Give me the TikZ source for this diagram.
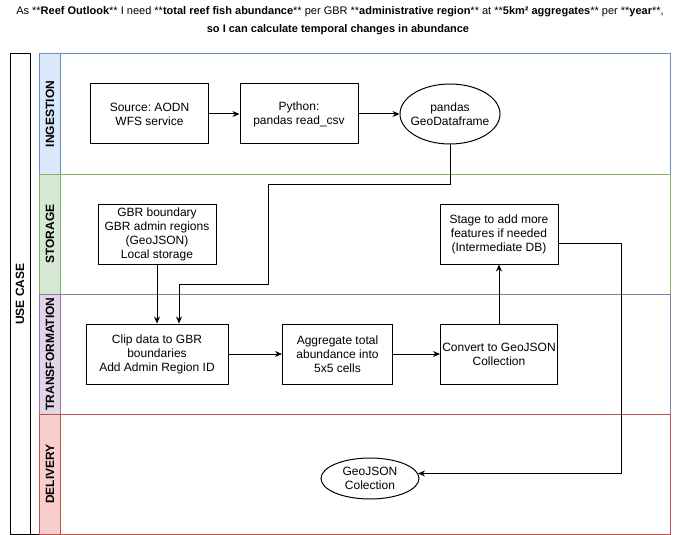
\documentclass[tikz,border=0pt]{standalone}
\usepackage{fontspec}
\setmainfont{Liberation Sans}
\usetikzlibrary{shapes.geometric,arrows.meta,calc}
\frenchspacing
\definecolor{inF}{HTML}{DAE8FC}\definecolor{inS}{HTML}{6C8EBF}
\definecolor{stF}{HTML}{D5E8D4}\definecolor{stS}{HTML}{82B366}
\definecolor{trF}{HTML}{E1D5E7}\definecolor{trS}{HTML}{9673A6}
\definecolor{deF}{HTML}{F8CECC}\definecolor{deS}{HTML}{B85450}
\tikzset{
  txt/.style={font=\fontsize{12}{14}\selectfont, align=center},
  box/.style={txt, draw, line width=1pt, minimum height=60pt, inner sep=2pt},
  oval/.style={ellipse, draw, line width=1pt, inner sep=0pt},
  arr/.style={-{Stealth[length=7pt,width=6pt]}, line width=1pt},
  link/.style={line width=1pt},
  lanelbl/.style={rotate=90, font=\bfseries\fontsize{12}{14}\selectfont},
}
\begin{document}
\frenchspacing
\begin{tikzpicture}[x=1pt,y=-1pt]
\useasboundingbox (0,0) rectangle (681,535);
% title
\node[font=\fontsize{11}{13}\selectfont] (t1) at (340,12) {As **\textbf{Reef Outlook}** I need **\textbf{total reef fish abundance}** per GBR **\textbf{administrative region}** at **\textbf{5km² aggregates}** per **\textbf{year}**,};
\node[font=\bfseries\fontsize{11}{13}\selectfont] (t2) at (338,30) {so I can calculate temporal changes in abundance};
% pool
\draw[line width=1pt] (10,54) rectangle (30,534);
\draw[line width=1pt] (30,534) -- (40,534);
\node[lanelbl] (uc) at (20,294) {USE CASE};
% lanes
\draw[inS, line width=1pt] (39.5,54) rectangle (670,174);
\draw[inS, fill=inF, line width=1pt] (39.5,54) rectangle (60,174);
\draw[stS, line width=1pt] (39.5,174) rectangle (670,294);
\draw[stS, fill=stF, line width=1pt] (39.5,174) rectangle (60,294);
\draw[trS, line width=1pt] (39.5,294) rectangle (670,414);
\draw[trS, fill=trF, line width=1pt] (39.5,294) rectangle (60,414);
\draw[deS, line width=1pt] (39.5,414) rectangle (670,534);
\draw[deS, fill=deF, line width=1pt] (39.5,414) rectangle (60,534);
\node[lanelbl] (l1) at (50,114) {INGESTION};
\node[lanelbl] (l2) at (50,234) {STORAGE};
\node[lanelbl] (l3) at (50,354) {TRANSFORMATION};
\node[lanelbl] (l4) at (50,474) {DELIVERY};
% nodes
\node[box, minimum width=118pt] (src) at (149.5,114) {Source: AODN\\WFS service};
\node[box, minimum width=118pt] (py) at (299,114) {Python:\\pandas read\_csv};
\node[oval, minimum width=100pt, minimum height=60pt] (pdf) at (450,114) {};
\node[txt] (pdfT) at (pdf.center) {pandas\\GeoDataframe};
\node[box, minimum width=118pt, inner sep=1pt] (gbr) at (157,234) {GBR boundary\\GBR admin regions\\(GeoJSON)\\Local storage};
\node[box, minimum width=118pt] (stage) at (499,234) {Stage to add more\\features if needed\\(Intermediate DB)};
\node[box, minimum width=142pt] (clip) at (157,354) {Clip data to GBR\\boundaries\\Add Admin Region ID};
\node[box, minimum width=110pt] (agg) at (337.5,354) {Aggregate total\\abundance into\\5x5 cells};
\node[box, minimum width=117pt, inner sep=1pt] (conv) at (499,354) {Convert to GeoJSON\\Collection};
\node[oval, minimum width=98pt, minimum height=41pt] (geo) at (370,478.5) {};
\node[txt] (geoT) at (geo.center) {GeoJSON\\Colection};
% connectors
\coordinate (j1) at (268,184);
\coordinate (j2) at (179,284);
\coordinate (k1) at (621,243);
\draw[arr] (src) -- (py);
\draw[arr] (py) -- (pdf);
\draw[arr] (pdf.south) |- (j1) |- (j2) -- (j2 |- clip.north);
\draw[arr] (gbr.south) -- (gbr.south |- clip.north);
\draw[arr] (clip) -- (agg);
\draw[arr] (agg) -- (conv);
\draw[arr] (conv.north) -- (stage.south);
\draw[arr] (stage.east |- k1) -- (k1) |- (geo.6);
\end{tikzpicture}
\end{document}
